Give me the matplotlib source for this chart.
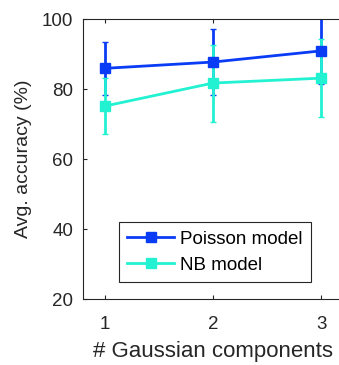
import matplotlib
matplotlib.use('Agg')
import matplotlib.pyplot as plt

# Mean accuracy and std for each number of Gaussian components
components = [1, 2, 3]
poisson_acc = [85.9, 87.7, 90.9]
poisson_err = [7.5, 9.5, 9.5]
nb_acc = [75.1, 81.7, 83.1]
nb_err = [8.0, 11.0, 11.2]

plt.rcParams['font.family'] = ['Liberation Sans', 'DejaVu Sans']

fig = plt.figure(figsize=(3.39, 3.65), dpi=100)
ax = fig.add_axes([83 / 339, 1 - 299 / 365, 260 / 339, 280 / 365])

blue = '#0a3cf5'
cyan = '#22f2d2'

ax.errorbar(components, poisson_acc, yerr=poisson_err, color=blue, fmt='none',
            elinewidth=2, capsize=2)
ax.errorbar(components, nb_acc, yerr=nb_err, color=cyan, fmt='none',
            elinewidth=2, capsize=2)
ax.plot(components, poisson_acc, color=blue, marker='s', markersize=7, linewidth=2,
        label='Poisson model')
ax.plot(components, nb_acc, color=cyan, marker='s', markersize=7, linewidth=2,
        label='NB model')

ax.set_xlim(0.8, 3.2)
ax.set_ylim(20, 100)
ax.set_xticks(components)
ax.set_yticks([20, 40, 60, 80, 100])
ax.tick_params(direction='in', top=True, right=True, labelsize=13.5, colors='#262626',
               length=3)
ax.tick_params(axis='x', pad=12)
ax.tick_params(axis='y', pad=7)
for s in ax.spines.values():
    s.set_color('#262626')
    s.set_linewidth(0.8)

ax.set_xlabel('# Gaussian components', fontsize=16, color='#262626', labelpad=6)
ax.set_ylabel('Avg. accuracy (%)', fontsize=14, color='#262626', labelpad=7)

leg = ax.legend(loc='lower left', bbox_to_anchor=(36 / 260, 17 / 280), fontsize=13.5,
                fancybox=False, framealpha=1, edgecolor='#262626', handlelength=2.5,
                borderpad=0.45, labelspacing=0.45, handletextpad=0.3, borderaxespad=0)
leg.get_frame().set_linewidth(0.8)

fig.savefig('out.png', dpi=100)
